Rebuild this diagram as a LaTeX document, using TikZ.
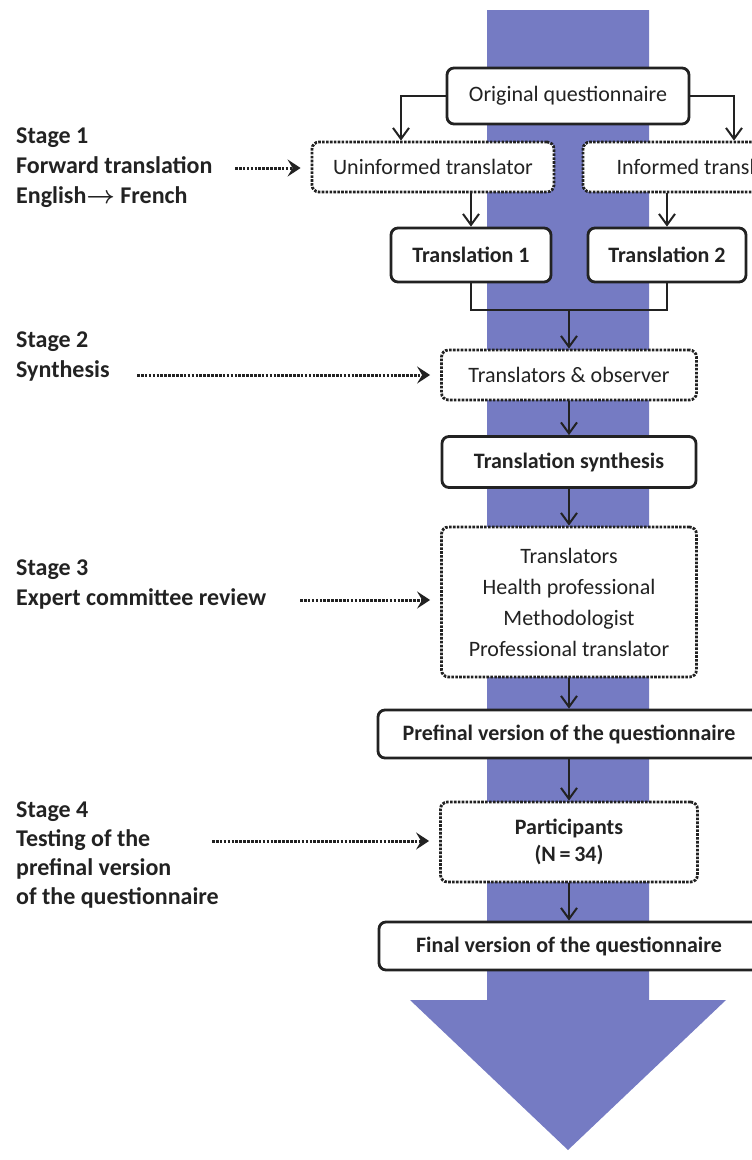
\documentclass[tikz,border=0pt]{standalone}
\usepackage{fontspec}
\setmainfont{Carlito}
\usetikzlibrary{arrows.meta}
\definecolor{flowblue}{RGB}{117,123,195}
\definecolor{ink}{RGB}{34,34,34}

\begin{document}
\begin{tikzpicture}[
    x=1pt, y=-1pt,
    box/.style={rectangle, draw=ink, line width=2.8pt, rounded corners=7pt, fill=white, inner sep=0pt, align=center, text=ink, font=\fontsize{22}{26}\selectfont\bfseries},
    dotbox/.style={box, dash pattern=on 2.6pt off 1.3pt, font=\fontsize{22}{31}\selectfont},
    stage/.style={anchor=west, align=left, text=ink, inner sep=0pt, font=\fontsize{24}{30}\selectfont\bfseries\boldmath},
    flow/.style={-{Straight Barb[length=11pt,width=16pt]}, line width=2pt, draw=ink},
    link/.style={line width=2pt, draw=ink},
    pointer/.style={-{Stealth[length=13pt,width=17pt,inset=5pt]}, draw=ink, line width=3pt, dash pattern=on 2.6pt off 1.3pt, shorten >=10pt}
]
\useasboundingbox (0,0) rectangle (752,1160);
\clip (0,0) rectangle (752,1160);

% Big arrow in the back
\fill[flowblue] (487,10) -- (649,10) -- (649,1000) -- (726,1000) -- (568,1150) -- (410,1000) -- (487,1000) -- cycle;

% Stage 1: forward translation
\node[box, font=\fontsize{22}{26}\selectfont, minimum width=242pt, minimum height=56pt] (orig) at (568,96) {Original questionnaire};
\node[dotbox, minimum width=242pt, minimum height=50pt] (uninf) at (433,167) {Uninformed translator};
\node[dotbox, minimum width=242pt, minimum height=50pt] (inf) at (704,167) {Informed translator};
\node[box, minimum width=160pt, minimum height=54pt] (tra) at (471,255) {Translation 1};
\node[box, minimum width=158pt, minimum height=54pt] (trb) at (667,255) {Translation 2};
\coordinate (join) at (569,310);

% Stage 2: synthesis
\node[dotbox, minimum width=255pt, minimum height=50pt] (obs) at (569,375) {Translators \& observer};
\node[box, minimum width=254pt, minimum height=51pt] (synth) at (569,462) {Translation synthesis};

% Stage 3: expert committee
\node[dotbox, minimum width=255pt, minimum height=150pt] (expert) at (569,602) {Translators\\Health professional\\Methodologist\\Professional translator};
\node[box, minimum width=382pt, minimum height=48pt] (prefinal) at (569,734) {Prefinal version of the questionnaire};

% Stage 4: testing
\node[dotbox, font=\fontsize{22}{27}\selectfont\bfseries, minimum width=257pt, minimum height=80pt] (part) at (569,842) {Participants\\(N\,=\,34)};
\node[box, minimum width=380pt, minimum height=48pt] (final) at (569,946) {Final version of the questionnaire};

% Arrows
\draw[flow] (orig.west) -| ([xshift=-32pt]uninf.north);
\draw[flow] (orig.east) -| ([xshift=30pt]inf.north);
\draw[flow] (tra.north |- uninf.south) -- (tra.north);
\draw[flow] (trb.north |- inf.south) -- (trb.north);
\draw[link] (tra.south) |- (join) -| (trb.south);
\draw[flow] (join) -- (obs.north);
\draw[flow] (obs) -- (synth);
\draw[flow] (synth) -- (expert);
\draw[flow] (expert) -- (prefinal);
\draw[flow] (prefinal) -- (part);
\draw[flow] (part) -- (final);

% Stage labels
\node[stage] (stageone) at (16,168) {Stage 1\\Forward translation\\English$\rightarrow$ French};
\node[stage] (stagetwo) at (16,357) {Stage 2\\Synthesis};
\node[stage] (stagethree) at (16,585) {Stage 3\\Expert committee review};
\node[stage, font=\fontsize{24}{29}\selectfont\bfseries] (stagefour) at (16,855) {Stage 4\\Testing of the\\prefinal version\\of the questionnaire};

% Dotted pointers
\coordinate (pa) at (235,168);
\coordinate (pb) at (137,375);
\coordinate (pc) at (300,600);
\coordinate (pd) at (212,841);
\draw[pointer] (pa) -- (pa -| uninf.west);
\draw[pointer] (pb) -- (pb -| obs.west);
\draw[pointer] (pc) -- (pc -| expert.west);
\draw[pointer] (pd) -- (pd -| part.west);

\end{tikzpicture}
\end{document}
